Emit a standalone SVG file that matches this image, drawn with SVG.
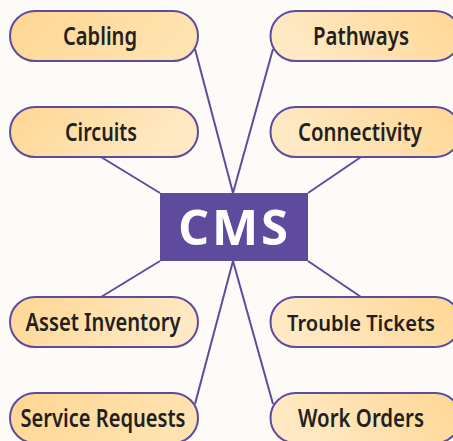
<svg xmlns="http://www.w3.org/2000/svg" width="453" height="441" viewBox="0 0 453 441">
<style>
.pill{stroke:#5f4b9e;stroke-width:2}
.lbl{font-family:"Noto Sans","Open Sans",sans-serif;font-weight:600;font-size:25px;fill:#231f20;text-anchor:middle}
.cms{font-family:"Open Sans","Noto Sans",sans-serif;font-weight:700;font-size:49px;fill:#fff;text-anchor:middle}
line{stroke:#5f4b9e;stroke-width:2}
</style>
<defs>
<linearGradient id="gl" x1="0" y1="0" x2="1" y2="0.25"><stop offset="0" stop-color="#fed692"/><stop offset="1" stop-color="#fee3b0"/></linearGradient>
<linearGradient id="gl2" x1="0" y1="0" x2="1" y2="0.25"><stop offset="0" stop-color="#fed692"/><stop offset="1" stop-color="#ffe9c4"/></linearGradient>
<linearGradient id="gr" x1="1" y1="0" x2="0" y2="0.25"><stop offset="0" stop-color="#fed692"/><stop offset="1" stop-color="#ffe9c4"/></linearGradient>
</defs>
<rect width="453" height="441" fill="#fcfbf8"/>
<g id="connectors">
<line x1="195" y1="49" x2="233" y2="193"/>
<line x1="273" y1="49" x2="233" y2="193"/>
<line x1="101" y1="157" x2="160" y2="193"/>
<line x1="361" y1="157" x2="308" y2="193"/>
<line x1="101" y1="297" x2="160" y2="261"/>
<line x1="361" y1="297" x2="308" y2="261"/>
<line x1="195" y1="404" x2="233" y2="261"/>
<line x1="273" y1="404" x2="233" y2="261"/>
</g>
<g id="cms"><rect x="160" y="193" width="148" height="68" fill="#5f4b9e"/><text class="cms" x="233" y="245" textLength="110" lengthAdjust="spacing">CMS</text></g>
<g id="cabling"><rect class="pill" x="10" y="11" width="188" height="50" rx="25" fill="url(#gl)"/><text class="lbl" x="100" y="45" textLength="74" lengthAdjust="spacingAndGlyphs">Cabling</text></g>
<g id="pathways"><rect class="pill" x="270.500" y="11" width="190" height="50" rx="25" fill="url(#gr)"/><text class="lbl" x="361" y="45" textLength="96" lengthAdjust="spacingAndGlyphs">Pathways</text></g>
<g id="circuits"><rect class="pill" x="10" y="107" width="188" height="50" rx="25" fill="url(#gl2)"/><text class="lbl" x="101" y="141" textLength="72" lengthAdjust="spacingAndGlyphs">Circuits</text></g>
<g id="connectivity"><rect class="pill" x="270.500" y="107" width="190" height="50" rx="25" fill="url(#gr)"/><text class="lbl" x="360" y="141" textLength="124" lengthAdjust="spacingAndGlyphs">Connectivity</text></g>
<g id="asset-inventory"><rect class="pill" x="10" y="297" width="188" height="50" rx="25" fill="url(#gl2)"/><text class="lbl" x="103" y="331" textLength="155" lengthAdjust="spacingAndGlyphs">Asset Inventory</text></g>
<g id="trouble-tickets"><rect class="pill" x="270.500" y="297" width="190" height="50" rx="25" fill="url(#gr)"/><text class="lbl" x="361" y="331" style="font-size:22.400px" textLength="148" lengthAdjust="spacingAndGlyphs">Trouble Tickets</text></g>
<g id="service-requests"><rect class="pill" x="10" y="393" width="188" height="50" rx="25" fill="url(#gl)"/><text class="lbl" x="103" y="427" textLength="165" lengthAdjust="spacingAndGlyphs">Service Requests</text></g>
<g id="work-orders"><rect class="pill" x="270.500" y="393" width="190" height="50" rx="25" fill="url(#gr)"/><text class="lbl" x="361" y="427" textLength="126" lengthAdjust="spacingAndGlyphs">Work Orders</text></g>
</svg>
